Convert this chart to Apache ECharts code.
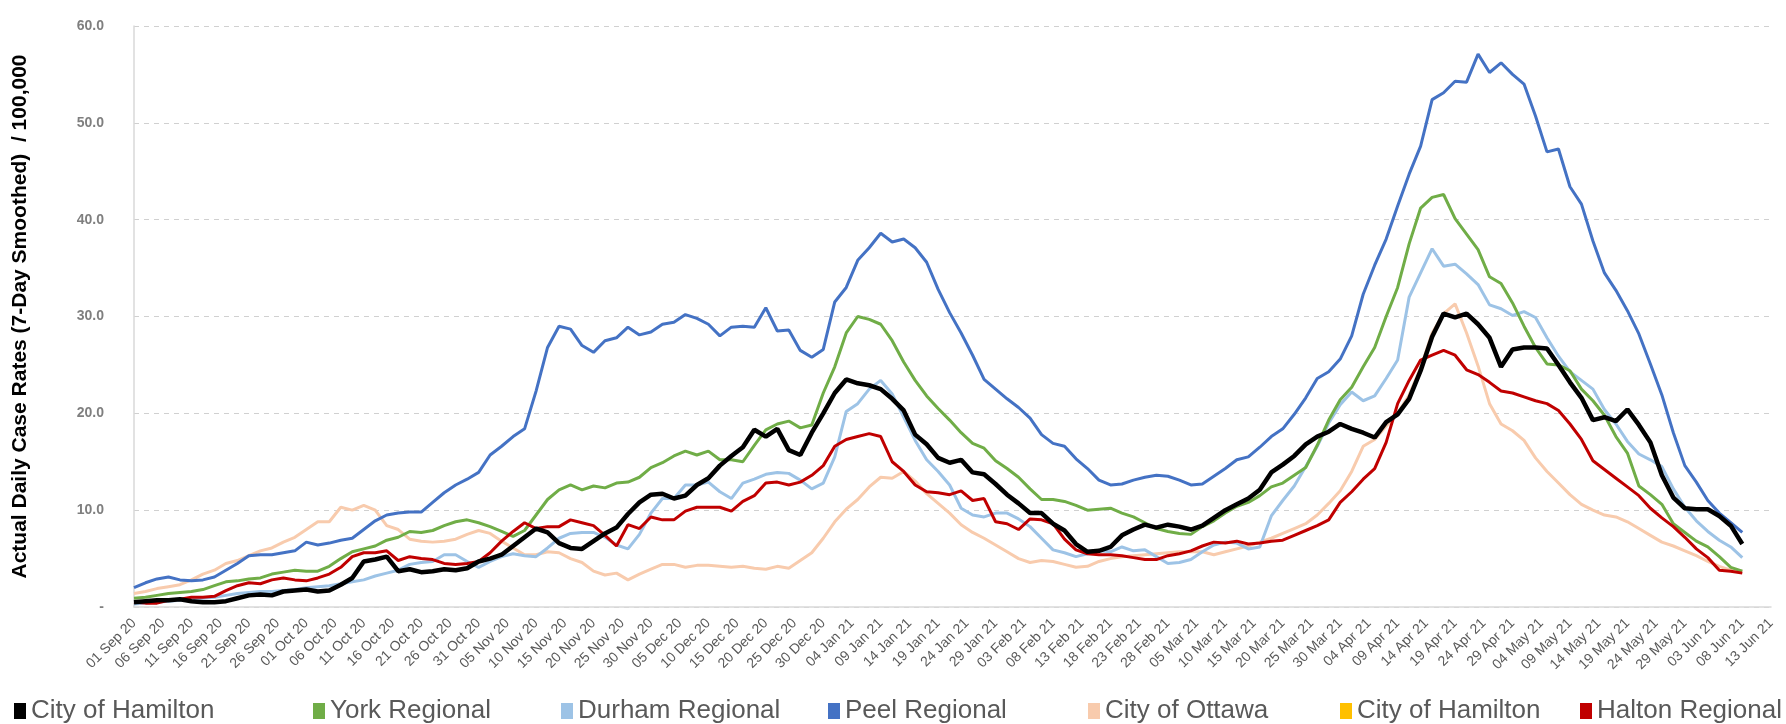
<!DOCTYPE html>
<html lang="en">

<head>
    <meta charset="UTF-8">
    <script src="https://cdn.jsdelivr.net/npm/echarts@6/dist/echarts.min.js"></script>
    <title>Actual Daily Case Rates</title>
    <style>
        html,
        body {
            margin: 0;
            width: 100%;
            height: 100%;
            background: #fff;
        }
    </style>
</head>

<body>
    <div id="chart" style="width: 1786px;height: 724px;"></div>
    <script>
        // day offsets from 01 Sep 2020 at which values were read (every 2nd day)
        var days = [0, 2, 4, 6, 8, 10, 12, 14, 16, 18, 20, 22, 24, 26, 28, 30, 32, 34, 36, 38,
            40, 42, 44, 46, 48, 50, 52, 54, 56, 58, 60, 62, 64, 66, 68, 70, 72, 74, 76, 78,
            80, 82, 84, 86, 88, 90, 92, 94, 96, 98, 100, 102, 104, 106, 108, 110, 112, 114, 116, 118,
            120, 122, 124, 126, 128, 130, 132, 134, 136, 138, 140, 142, 144, 146, 148, 150, 152, 154, 156, 158,
            160, 162, 164, 166, 168, 170, 172, 174, 176, 178, 180, 182, 184, 186, 188, 190, 192, 194, 196, 198,
            200, 202, 204, 206, 208, 210, 212, 214, 216, 218, 220, 222, 224, 226, 228, 230, 232, 234, 236, 238,
            240, 242, 244, 246, 248, 250, 252, 254, 256, 258, 260, 262, 264, 266, 268, 270, 272, 274, 276, 278,
            280];

        var xTickLabels = ['01 Sep 20', '06 Sep 20', '11 Sep 20', '16 Sep 20', '21 Sep 20', '26 Sep 20',
            '01 Oct 20', '06 Oct 20', '11 Oct 20', '16 Oct 20', '21 Oct 20', '26 Oct 20', '31 Oct 20',
            '05 Nov 20', '10 Nov 20', '15 Nov 20', '20 Nov 20', '25 Nov 20', '30 Nov 20',
            '05 Dec 20', '10 Dec 20', '15 Dec 20', '20 Dec 20', '25 Dec 20', '30 Dec 20',
            '04 Jan 21', '09 Jan 21', '14 Jan 21', '19 Jan 21', '24 Jan 21', '29 Jan 21',
            '03 Feb 21', '08 Feb 21', '13 Feb 21', '18 Feb 21', '23 Feb 21', '28 Feb 21',
            '05 Mar 21', '10 Mar 21', '15 Mar 21', '20 Mar 21', '25 Mar 21', '30 Mar 21',
            '04 Apr 21', '09 Apr 21', '14 Apr 21', '19 Apr 21', '24 Apr 21', '29 Apr 21',
            '04 May 21', '09 May 21', '14 May 21', '19 May 21', '24 May 21', '29 May 21',
            '03 Jun 21', '08 Jun 21', '13 Jun 21'];

        var hamilton = [0.5, 0.6, 0.7, 0.7, 0.8, 0.6, 0.5, 0.5, 0.6, 0.9,
            1.2, 1.3, 1.2, 1.6, 1.7, 1.8, 1.6, 1.7, 2.3, 3.0,
            4.7, 4.9, 5.2, 3.7, 3.9, 3.6, 3.7, 3.9, 3.8, 4.0,
            4.7, 5.0, 5.4, 6.3, 7.2, 8.1, 7.7, 6.6, 6.1, 6.0,
            6.8, 7.6, 8.2, 9.6, 10.8, 11.6, 11.7, 11.2, 11.5, 12.6,
            13.3, 14.6, 15.6, 16.5, 18.3, 17.6, 18.4, 16.2, 15.7, 18.0,
            20.0, 22.1, 23.5, 23.1, 22.9, 22.5, 21.5, 20.3, 17.8, 16.8,
            15.4, 14.9, 15.2, 13.9, 13.7, 12.7, 11.6, 10.7, 9.7, 9.7,
            8.6, 7.9, 6.5, 5.7, 5.8, 6.2, 7.4, 8.0, 8.5, 8.2,
            8.5, 8.3, 8.0, 8.4, 9.2, 10.0, 10.6, 11.2, 12.1, 13.9,
            14.7, 15.6, 16.8, 17.6, 18.1, 18.9, 18.4, 18.0, 17.5, 19.1,
            19.9, 21.5, 24.4, 27.9, 30.3, 29.9, 30.3, 29.2, 27.8, 24.8,
            26.6, 26.8, 26.8, 26.7, 25.0, 23.2, 21.6, 19.3, 19.6, 19.2,
            20.4, 18.8, 17.0, 13.6, 11.3, 10.2, 10.1, 10.1, 9.4, 8.4,
            6.5];

        var york = [0.9, 1.0, 1.2, 1.4, 1.5, 1.6, 1.8, 2.2, 2.6, 2.7,
            2.9, 3.0, 3.4, 3.6, 3.8, 3.7, 3.7, 4.2, 5.0, 5.7,
            6.0, 6.3, 6.9, 7.2, 7.8, 7.7, 7.9, 8.4, 8.8, 9.0,
            8.7, 8.3, 7.8, 7.3, 7.9, 9.5, 11.1, 12.1, 12.6, 12.1,
            12.5, 12.3, 12.8, 12.9, 13.4, 14.4, 14.9, 15.6, 16.1, 15.7,
            16.1, 15.2, 15.2, 15.0, 16.7, 18.3, 18.9, 19.2, 18.5, 18.8,
            22.1, 24.8, 28.3, 30.0, 29.7, 29.2, 27.5, 25.3, 23.4, 21.8,
            20.5, 19.3, 18.0, 16.9, 16.4, 15.1, 14.3, 13.4, 12.2, 11.1,
            11.1, 10.9, 10.5, 10.0, 10.1, 10.2, 9.7, 9.3, 8.7, 8.1,
            7.8, 7.6, 7.5, 8.3, 8.9, 9.7, 10.4, 10.8, 11.5, 12.4,
            12.8, 13.6, 14.4, 16.7, 19.3, 21.4, 22.7, 24.8, 26.8, 30.0,
            33.0, 37.5, 41.2, 42.3, 42.6, 40.1, 38.5, 36.9, 34.1, 33.4,
            31.4, 29.0, 26.8, 25.1, 25.0, 24.4, 22.5, 21.3, 19.8, 17.6,
            15.9, 12.5, 11.6, 10.6, 8.6, 7.7, 6.8, 6.2, 5.2, 4.1,
            3.7];

        var durham = [0.3, 0.4, 0.5, 0.6, 0.7, 0.8, 0.9, 1.0, 1.2, 1.4,
            1.5, 1.6, 1.6, 1.7, 1.8, 2.0, 2.1, 2.2, 2.4, 2.6,
            2.8, 3.2, 3.5, 3.8, 4.4, 4.6, 4.7, 5.4, 5.4, 4.7,
            4.1, 4.7, 5.2, 5.5, 5.3, 5.2, 6.1, 7.1, 7.6, 7.7,
            7.7, 7.2, 6.4, 6.0, 7.5, 9.7, 11.2, 11.2, 12.6, 12.6,
            12.9, 11.9, 11.2, 12.8, 13.2, 13.7, 13.9, 13.8, 13.1, 12.2,
            12.8, 15.5, 20.2, 21.0, 22.5, 23.4, 22.0, 19.6, 17.2, 15.2,
            14.0, 12.6, 10.2, 9.5, 9.3, 9.7, 9.7, 9.1, 8.3, 7.1,
            5.9, 5.6, 5.2, 5.5, 5.8, 5.7, 6.2, 5.8, 5.9, 5.2,
            4.5, 4.6, 4.9, 5.7, 6.4, 6.7, 6.6, 6.0, 6.2, 9.4,
            11.0, 12.5, 14.5, 16.6, 19.0, 20.9, 22.2, 21.3, 21.8, 23.6,
            25.5, 32.0, 34.5, 37.0, 35.2, 35.4, 34.4, 33.3, 31.2, 30.8,
            30.1, 30.5, 29.9, 27.8, 25.9, 24.3, 23.4, 22.5, 20.4, 18.9,
            17.1, 15.8, 15.2, 14.5, 12.2, 10.3, 8.9, 7.8, 6.9, 6.2,
            5.1];

        var peel = [2.0, 2.5, 2.9, 3.1, 2.8, 2.7, 2.8, 3.1, 3.8, 4.5,
            5.3, 5.4, 5.4, 5.6, 5.8, 6.7, 6.4, 6.6, 6.9, 7.1,
            8.0, 8.9, 9.5, 9.7, 9.8, 9.8, 10.8, 11.8, 12.6, 13.2,
            13.9, 15.7, 16.6, 17.6, 18.4, 22.3, 26.8, 29.0, 28.7, 27.0,
            26.3, 27.5, 27.8, 28.9, 28.1, 28.4, 29.2, 29.4, 30.2, 29.8,
            29.2, 28.0, 28.9, 29.0, 28.9, 30.9, 28.5, 28.6, 26.5, 25.8,
            26.6, 31.5, 33.0, 35.8, 37.1, 38.6, 37.7, 38.0, 37.1, 35.6,
            32.8, 30.4, 28.3, 26.0, 23.5, 22.5, 21.5, 20.6, 19.5, 17.8,
            16.9, 16.6, 15.3, 14.3, 13.1, 12.6, 12.7, 13.1, 13.4, 13.6,
            13.5, 13.1, 12.6, 12.7, 13.5, 14.3, 15.2, 15.5, 16.5, 17.6,
            18.4, 19.9, 21.6, 23.6, 24.3, 25.6, 28.0, 32.3, 35.3, 38.0,
            41.4, 44.7, 47.6, 52.4, 53.1, 54.3, 54.2, 57.1, 55.2, 56.2,
            55.0, 54.0, 50.7, 47.0, 47.3, 43.4, 41.6, 37.8, 34.5, 32.7,
            30.6, 28.2, 25.1, 21.9, 18.0, 14.6, 12.9, 11.0, 9.7, 8.7,
            7.7];

        var ottawa = [1.4, 1.6, 1.9, 2.1, 2.3, 2.8, 3.4, 3.8, 4.5, 4.8,
            5.3, 5.8, 6.1, 6.7, 7.2, 8.0, 8.8, 8.8, 10.3, 10.0,
            10.5, 10.0, 8.4, 8.0, 7.0, 6.8, 6.7, 6.8, 7.0, 7.5,
            7.9, 7.6, 6.8, 6.1, 5.4, 5.4, 5.7, 5.6, 5.0, 4.6,
            3.7, 3.3, 3.5, 2.8, 3.4, 3.9, 4.4, 4.4, 4.1, 4.3,
            4.3, 4.2, 4.1, 4.2, 4.0, 3.9, 4.2, 4.0, 4.8, 5.6,
            7.1, 8.8, 10.1, 11.1, 12.4, 13.4, 13.3, 14.0, 13.0, 11.7,
            10.7, 9.7, 8.5, 7.7, 7.1, 6.4, 5.7, 5.0, 4.6, 4.8,
            4.7, 4.4, 4.1, 4.2, 4.7, 5.0, 5.2, 5.3, 5.4, 5.5,
            5.6, 5.7, 5.7, 5.7, 5.4, 5.7, 6.0, 6.3, 6.7, 7.1,
            7.6, 8.1, 8.6, 9.5, 10.7, 12.0, 14.0, 16.6, 17.3, 18.7,
            20.0, 21.9, 24.7, 28.3, 30.3, 31.3, 28.3, 24.9, 21.0, 18.9,
            18.2, 17.2, 15.4, 14.0, 12.8, 11.6, 10.6, 10.0, 9.5, 9.3,
            8.8, 8.1, 7.4, 6.7, 6.3, 5.8, 5.3, 4.7, 4.2, 3.8,
            3.7];

        var halton = [0.5, 0.4, 0.4, 0.7, 0.8, 1.0, 1.0, 1.1, 1.7, 2.2,
            2.5, 2.4, 2.8, 3.0, 2.8, 2.7, 3.0, 3.4, 4.1, 5.2,
            5.6, 5.6, 5.8, 4.8, 5.2, 5.0, 4.9, 4.5, 4.4, 4.5,
            4.7, 5.6, 6.8, 7.8, 8.7, 8.1, 8.3, 8.3, 9.0, 8.7,
            8.4, 7.4, 6.3, 8.5, 8.1, 9.3, 9.0, 9.0, 9.9, 10.3,
            10.3, 10.3, 9.9, 10.9, 11.5, 12.8, 12.9, 12.6, 12.9, 13.6,
            14.6, 16.6, 17.3, 17.6, 17.9, 17.6, 15.0, 14.0, 12.6, 11.9,
            11.8, 11.6, 12.0, 11.0, 11.2, 8.8, 8.6, 8.0, 9.1, 9.0,
            8.6, 7.0, 5.9, 5.5, 5.4, 5.4, 5.3, 5.1, 4.9, 4.9,
            5.3, 5.5, 5.8, 6.3, 6.7, 6.6, 6.8, 6.5, 6.6, 6.8,
            6.9, 7.4, 7.9, 8.4, 9.0, 10.8, 11.9, 13.2, 14.3, 17.0,
            21.0, 23.4, 25.5, 26.0, 26.5, 26.0, 24.5, 24.0, 23.2, 22.3,
            22.1, 21.7, 21.3, 21.0, 20.3, 18.9, 17.3, 15.1, 14.2, 13.3,
            12.4, 11.5, 10.2, 9.2, 8.3, 7.2, 6.0, 5.1, 3.8, 3.7,
            3.5];

        // the second "City of Hamilton" entry has no values in the source chart
        var hamilton2 = [];

        function pairs(values) {
            return values.map(function (v, i) {
                return [days[i], v];
            });
        }

        var chart = echarts.init(document.getElementById('chart'));

        var legendText = { fontFamily: 'Liberation Sans', fontSize: 26, color: '#595959' };
        var legendLefts = [14, 313, 561, 828, 1088, 1340, 1580];
        var legendNames = ['City of Hamilton', 'York Regional', 'Durham Regional', 'Peel Regional',
            'City of Ottawa', 'City of Hamilton ', 'Halton Regional'];

        var option = {
            animation: false,
            backgroundColor: '#ffffff',
            legend: legendNames.map(function (n, i) {
                return {
                    data: [n],
                    left: legendLefts[i],
                    top: 698,
                    icon: 'rect',
                    itemWidth: 12,
                    itemHeight: 16,
                    padding: 0,
                    textStyle: legendText
                };
            }),
            grid: {
                left: 134,
                right: 15,
                top: 26,
                bottom: 117
            },
            xAxis: {
                type: 'value',
                min: 0,
                max: 285,
                interval: 5,
                axisLine: { lineStyle: { color: '#d9d9d9', width: 1.5 } },
                axisTick: { show: false },
                splitLine: { show: false },
                axisLabel: {
                    rotate: 45,
                    margin: 14,
                    fontFamily: 'Liberation Sans',
                    fontSize: 14,
                    color: '#595959',
                    showMinLabel: true,
                    showMaxLabel: true,
                    formatter: function (v) {
                        return xTickLabels[Math.round(v / 5)];
                    }
                }
            },
            yAxis: {
                type: 'value',
                min: 0,
                max: 60,
                interval: 10,
                name: 'Actual Daily Case Rates (7-Day Smoothed)  / 100,000',
                nameLocation: 'middle',
                nameRotate: 90,
                nameGap: 103,
                nameTextStyle: {
                    fontFamily: 'Liberation Sans',
                    fontWeight: 'bold',
                    fontSize: 21,
                    color: '#000'
                },
                axisLine: { show: true, lineStyle: { color: '#d9d9d9', width: 1.5 } },
                axisTick: { show: false },
                splitLine: { lineStyle: { color: '#d0d0d0', type: [5, 5] } },
                axisLabel: {
                    margin: 30,
                    fontFamily: 'Liberation Sans',
                    fontWeight: 'bold',
                    fontSize: 14,
                    color: '#7f7f7f',
                    formatter: function (v) {
                        return v === 0 ? '-' : v.toFixed(1);
                    }
                }
            },
            series: [
                { name: 'City of Ottawa', color: '#f8cbad', data: pairs(ottawa), z: 2 },
                { name: 'Durham Regional', color: '#9dc3e6', data: pairs(durham), z: 3 },
                { name: 'York Regional', color: '#70ad47', data: pairs(york), z: 4 },
                { name: 'Peel Regional', color: '#4472c4', data: pairs(peel), z: 5 },
                { name: 'Halton Regional', color: '#c00000', data: pairs(halton), z: 6 },
                { name: 'City of Hamilton ', color: '#ffc000', data: pairs(hamilton2), z: 7 },
                { name: 'City of Hamilton', color: '#000000', data: pairs(hamilton), z: 8, lineStyle: { width: 4.5 } }
            ].map(function (s) {
                s.type = 'line';
                s.showSymbol = false;
                s.symbol = 'none';
                s.lineStyle = s.lineStyle || { width: 3 };
                s.lineStyle.color = s.color;
                return s;
            })
        };
        chart.setOption(option);
    </script>
</body>

</html>
